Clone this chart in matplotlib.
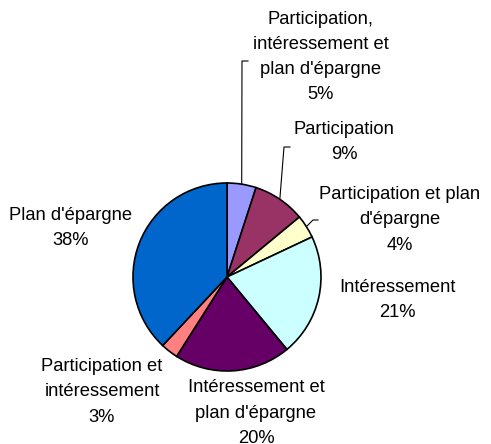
import matplotlib.pyplot as plt
import numpy as np

# Répartition des dispositifs d'épargne salariale
labels = ["Participation,\nintéressement et\nplan d'épargne",
          "Participation",
          "Participation et plan\nd'épargne",
          "Intéressement",
          "Intéressement et\nplan d'épargne",
          "Participation et\nintéressement",
          "Plan d'épargne"]
shares = [5, 9, 4, 21, 20, 3, 38]
colors = ["#9999FF", "#993366", "#FFFFCC", "#CCFFFF", "#660066", "#FF8080", "#0066CC"]

# label positions (figure pixels, origin bottom-left)
label_xy = [(321, 387), (344, 302), (400, 224), (397, 144),
            (256, 31), (102, 52), (71, 216)]
# end of leader line for the small slices at the top
leader_end = {0: (248, 383), 1: (290, 297), 2: (318, 226)}

W, H = 491, 444
fig = plt.figure(figsize=(W / 100, H / 100), dpi=100)
ax = fig.add_axes([0, 0, 1, 1])

cx, cy, r = 227, 167, 94
wedges, _ = ax.pie(shares, colors=colors, startangle=90, counterclock=False,
                   center=(cx, cy), radius=r, frame=True,
                   wedgeprops=dict(edgecolor="black", linewidth=1.2))
ax.set_xlim(0, W)
ax.set_ylim(0, H)
ax.set_aspect("equal")
ax.axis("off")

for i, (lab, val) in enumerate(zip(labels, shares)):
    x, y = label_xy[i]
    ax.text(x, y, f"{lab}\n{val}%", ha="center", va="center",
            fontsize=13.2, family="Liberation Sans", linespacing=1.62)
    if i in leader_end:
        w = wedges[i]
        ang = np.deg2rad((w.theta1 + w.theta2) / 2)
        x0, y0 = cx + r * np.cos(ang), cy + r * np.sin(ang)
        ex, ey = leader_end[i]
        if i < 2:
            ax.plot([x0, ex - 6, ex], [y0, ey, ey], color="black", lw=0.8)
        else:
            ax.plot([x0, ex - 5, ex], [y0, ey - 2, ey - 2], color="black", lw=0.8)

fig.savefig("out.png", dpi=100)
